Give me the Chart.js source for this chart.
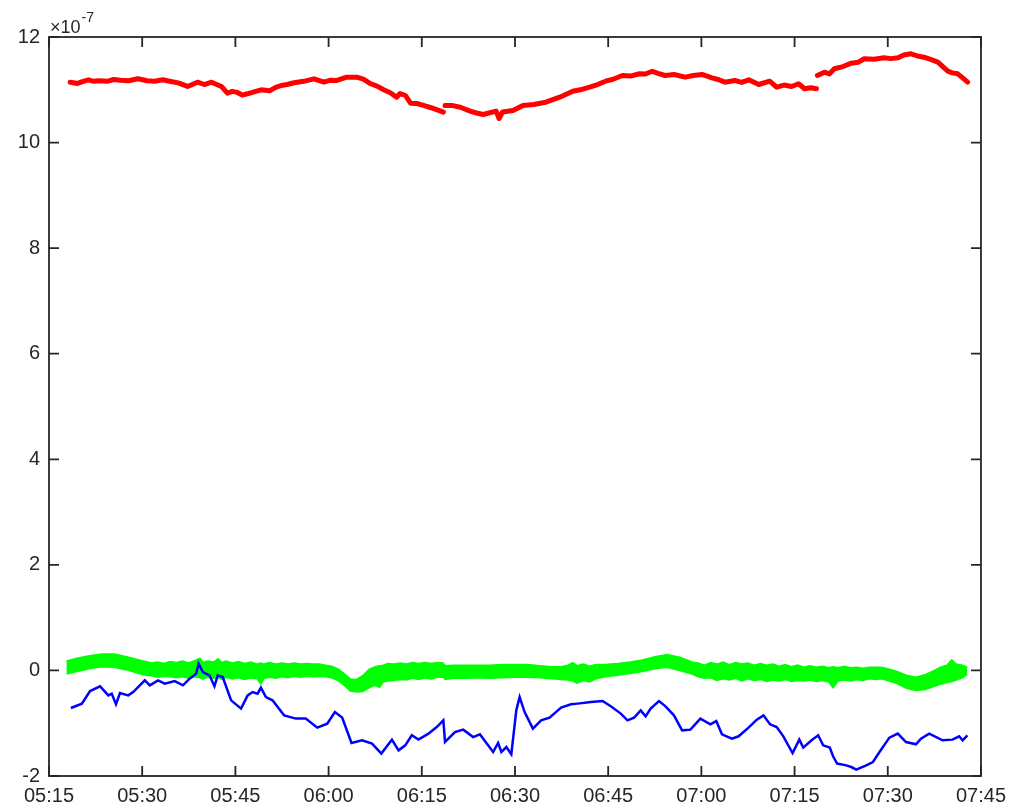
<!DOCTYPE html>
<html>
<head>
<meta charset="utf-8">
<script src="https://cdn.jsdelivr.net/npm/chart.js@4.4.1/dist/chart.umd.min.js"></script>
<style>
  html, body { margin: 0; padding: 0; background: #ffffff; }
  #wrap { width: 1014px; height: 806px; position: relative; }
</style>
</head>
<body>
<div id="wrap"><canvas id="c" width="1014" height="806"></canvas></div>
<script>
// Time axis: minutes after 05:15, ticks every 15 minutes
const tickMinutes = [0, 15, 30, 45, 60, 75, 90, 105, 120, 135, 150];
const tickLabels = ['05:15', '05:30', '05:45', '06:00', '06:15', '06:30',
                    '06:45', '07:00', '07:15', '07:30', '07:45'];
const yTicks = [-2, 0, 2, 4, 6, 8, 10, 12];
const EXPONENT = -7; // values below are in units of 10^-7

// Red trace (three segments separated by null gaps)
const redMinutes = [3.41, 4.6, 5.5, 6.34, 7.2, 8.0, 9.5, 10.4, 11.5, 12.8, 14.3, 15.8, 17.02, 18.3, 19.42, 20.8, 22.31, 23.91, 25.0,
  26.15, 27.75, 28.71, 29.5, 30.3, 31.1, 31.92, 33.0, 34.16, 35.5, 36.4, 37.36, 38.3, 39.44, 41.0, 42.65, 44.25, 45.2, 46.33, 47.93, 49.53,
  50.6, 51.78, 52.8, 53.86, 55.0, 55.94, 56.5, 57.38, 58.18, 59.2, 60.27, 61.5, 62.5, 63.47,
  63.6,
  63.74, 65.0, 66.19, 67.8, 68.8, 69.88, 70.8, 71.96, 72.44, 73.0, 74.68, 76.28, 78.0, 79.96, 82.21, 84.29, 85.5, 87.01, 88.3, 89.57,
  90.8, 92.29, 93.6, 95.02, 96.0, 97.1, 98.0, 99.18, 100.6, 102.38, 103.7, 105.11, 106.71, 107.8, 108.79, 110.39, 111.5, 112.63,
  114.23, 115.99, 117.11, 118.3, 119.52, 120.64, 121.6, 122.6, 123.52,
  123.6,
  123.68, 124.8, 125.6, 126.4, 127.8, 129.12, 130.2, 131.21, 132.8, 134.41, 135.5, 136.65, 137.6, 138.73, 139.8, 140.81, 142.0,
  143.06, 144.66, 145.4, 146.26, 147.1, 147.86];
const redValues = [11.144, 11.12, 11.16, 11.189, 11.16, 11.17, 11.163, 11.195, 11.18, 11.17, 11.208, 11.17, 11.163, 11.19, 11.163, 11.13, 11.063, 11.144, 11.10,
  11.144, 11.063, 10.936, 10.97, 10.95, 10.90, 10.924, 10.96, 11.0, 10.98, 11.04, 11.081, 11.10, 11.133, 11.16, 11.208, 11.144, 11.18, 11.176, 11.239, 11.239,
  11.20, 11.114, 11.07, 11.0, 10.94, 10.86, 10.93, 10.892, 10.746, 10.74, 10.703, 10.66, 10.62, 10.576,
  null,
  10.703, 10.70, 10.67, 10.595, 10.56, 10.532, 10.56, 10.597, 10.456, 10.58, 10.608, 10.703, 10.72, 10.765, 10.86, 10.973, 11.00, 11.049, 11.10, 11.163,
  11.20, 11.271, 11.26, 11.303, 11.30, 11.352, 11.31, 11.271, 11.29, 11.239, 11.27, 11.29, 11.227, 11.19, 11.144, 11.176, 11.14, 11.189,
  11.1, 11.163, 11.049, 11.09, 11.063, 11.114, 11.019, 11.04, 11.019,
  null,
  11.271, 11.333, 11.30, 11.398, 11.44, 11.504, 11.52, 11.587, 11.58, 11.606, 11.59, 11.606, 11.66, 11.682, 11.64, 11.617, 11.57,
  11.523, 11.352, 11.32, 11.303, 11.22, 11.144];

// Blue trace
const blueMinutes = [3.52, 5.29, 6.61, 8.22, 9.55, 10.09, 10.78, 11.42, 12.75, 13.55, 15.42, 16.23, 17.55, 18.63, 20.23,
  21.56, 22.63, 23.7, 24.07, 24.76, 25.83, 26.63, 27.16, 27.96, 29.31, 30.91, 31.97, 32.77, 33.57, 34.11, 34.91, 35.97,
  37.84, 39.72, 41.32, 43.18, 44.78, 46.01, 47.18, 48.69, 50.38, 51.99, 53.49, 55.19, 56.26, 57.34, 58.39, 59.47, 61.07,
  62.4, 63.47, 63.74, 65.34, 66.67, 68.27, 69.35, 70.4, 71.48, 72.28, 72.81, 73.61, 74.41, 75.21, 75.75, 76.55, 77.88,
  79.21, 80.56, 82.42, 84.02, 85.09, 87.22, 89.1, 90.42, 92.03, 93.1, 94.17, 95.23, 96.03, 96.83, 98.17, 99.23, 100.58,
  101.9, 103.23, 104.84, 106.44, 107.4, 108.31, 109.91, 110.99, 112.59, 113.92, 114.99, 116.05, 117.12, 118.19, 119.68,
  120.76, 121.4, 122.73, 123.8, 124.6, 125.66, 126.2, 126.84, 128.33, 129.13, 129.93, 131.53, 132.61, 133.67, 135.26,
  136.61, 137.94, 139.54, 140.34, 141.67, 143.82, 145.42, 146.49, 147.04, 147.82];
const blueValues = [-0.712, -0.629, -0.39, -0.301, -0.472, -0.44, -0.642, -0.428, -0.472, -0.409, -0.188, -0.282, -0.188, -0.25, -0.201,
  -0.282, -0.156, -0.061, 0.128, -0.031, -0.093, -0.301, -0.093, -0.125, -0.567, -0.724, -0.472, -0.409, -0.44, -0.326, -0.504, -0.567,
  -0.851, -0.913, -0.913, -1.084, -1.008, -0.788, -0.894, -1.375, -1.324, -1.387, -1.576, -1.311, -1.514, -1.419, -1.229, -1.311, -1.197,
  -1.072, -0.945, -1.356, -1.167, -1.122, -1.262, -1.211, -1.375, -1.546, -1.375, -1.546, -1.451, -1.589, -0.756, -0.504, -0.788, -1.103,
  -0.945, -0.894, -0.705, -0.642, -0.629, -0.599, -0.58, -0.68, -0.818, -0.945, -0.894, -0.756, -0.87, -0.724, -0.58, -0.68, -0.851,
  -1.135, -1.122, -0.913, -1.021, -0.959, -1.211, -1.292, -1.248, -1.084, -0.932, -0.851, -1.021, -1.072, -1.248, -1.565,
  -1.311, -1.462, -1.324, -1.229, -1.419, -1.462, -1.627, -1.765, -1.798, -1.83, -1.879, -1.798, -1.735, -1.546, -1.273,
  -1.197, -1.356, -1.4, -1.292, -1.197, -1.324, -1.311, -1.248, -1.324, -1.229];

// Green trace: upper and lower edges of its noisy band
const greenMinutes = [
  2.8, 4.5, 6.5, 8.5, 10.5, 12.5, 14.5,
  15.5, 16.5, 17.5, 18.5, 19.5, 20.5, 21.5, 22.5, 23.5, 24.3, 24.8, 25.5, 26.5, 27.2, 27.8, 28.5, 29.5,
  30.5, 31.5, 32.5, 33.5, 34.1, 34.6, 35.5, 36.5, 37.5, 38.5, 39.5, 40.5, 41.5, 42.5, 43.5, 44.5,
  45.5, 46.5, 47.5, 48.5, 49.5, 50.5, 51.5,
  52.5, 53.2, 53.8, 54.5, 55.5, 56.5, 57.5, 58.5, 59.5, 60.5, 61.5, 62.5, 63.4,
  63.8, 65, 67, 69, 71, 73, 75, 77, 79, 81, 82.5,
  83.5, 84.3, 85, 86, 87, 88, 89.5, 91.5, 93.5, 95.5, 97.5, 99.5, 101.5, 103.5,
  104.5, 105.5, 106.5, 107.5, 108.5, 109.5, 110.5, 111.5, 112.5, 113.5, 114.5,
  115.5, 116.5, 117.5, 118.5, 119.5, 120.5, 121.5, 122.5, 123.5, 124.5, 125.5,
  126.2, 127, 128, 129, 130, 131, 132, 133, 134, 135,
  136.5, 138, 139.5, 141, 142.5,
  143.5, 144.5, 145.3, 146, 147, 147.8];
const greenUpper = [
  0.18, 0.23, 0.28, 0.31, 0.31, 0.26, 0.20,
  0.17, 0.14, 0.16, 0.13, 0.17, 0.15, 0.18, 0.14, 0.19, 0.23, 0.15, 0.18, 0.16, 0.22, 0.15, 0.18, 0.14,
  0.17, 0.13, 0.16, 0.12, 0.14, 0.12, 0.15, 0.12, 0.14, 0.12, 0.14, 0.12, 0.13, 0.12, 0.12, 0.10,
  0.08, 0.03, -0.06, -0.16, -0.17, -0.10, 0.02,
  0.07, 0.09, 0.10, 0.13, 0.12, 0.14, 0.12, 0.15, 0.13, 0.15, 0.13, 0.15, 0.14,
  0.09, 0.10, 0.10, 0.10, 0.10, 0.11, 0.11, 0.11, 0.09, 0.07, 0.07,
  0.10, 0.15, 0.09, 0.12, 0.08, 0.11, 0.11, 0.13, 0.16, 0.20, 0.26, 0.30, 0.25, 0.16,
  0.14, 0.10, 0.15, 0.12, 0.16, 0.11, 0.15, 0.12, 0.14, 0.10, 0.13,
  0.10, 0.12, 0.08, 0.11, 0.07, 0.10, 0.06, 0.09, 0.06, 0.08, 0.05,
  0.07, 0.05, 0.08, 0.05, 0.06, 0.04, 0.06, 0.06, 0.06, 0.03,
  -0.02, -0.09, -0.13, -0.08, 0.00,
  0.06, 0.10, 0.20, 0.12, 0.10, 0.06];
const greenLower = [
  -0.07, -0.02, 0.03, 0.07, 0.06, 0.01, -0.06,
  -0.09, -0.10, -0.13, -0.11, -0.12, -0.14, -0.12, -0.15, -0.12, -0.14, -0.16, -0.13, -0.15, -0.14, -0.17, -0.13, -0.16,
  -0.14, -0.17, -0.14, -0.16, -0.26, -0.15, -0.13, -0.15, -0.12, -0.14, -0.11, -0.13, -0.11, -0.12, -0.11, -0.12,
  -0.14, -0.19, -0.28, -0.39, -0.41, -0.40, -0.33,
  -0.28, -0.32, -0.22, -0.20, -0.19, -0.17, -0.18, -0.15, -0.17, -0.14, -0.16, -0.13, -0.13,
  -0.17, -0.15, -0.15, -0.14, -0.15, -0.14, -0.13, -0.13, -0.14, -0.16, -0.17,
  -0.18, -0.20, -0.24, -0.19, -0.22, -0.16, -0.12, -0.09, -0.06, -0.02, 0.03, 0.06, 0.00, -0.07,
  -0.12, -0.15, -0.14, -0.19, -0.16, -0.18, -0.15, -0.20, -0.16, -0.19, -0.17,
  -0.21, -0.18, -0.20, -0.17, -0.21, -0.19, -0.20, -0.18, -0.21, -0.19, -0.22,
  -0.33, -0.20, -0.18, -0.20, -0.17, -0.19, -0.16, -0.17, -0.16, -0.19,
  -0.25, -0.34, -0.38, -0.36, -0.30,
  -0.26, -0.23, -0.21, -0.18, -0.14, -0.07];

const pts = (xs, ys) => xs.map((x, i) => ({ x: x, y: ys[i] }));

const AXIS_COLOR = '#262626';
const FONT = '"Liberation Sans", Helvetica, Arial, sans-serif';

// Full box with inward tick marks on all four sides, plus the exponent label
const boxPlugin = {
  id: 'box',
  afterDatasetsDraw(chart) {
    const { ctx, chartArea: a, scales } = chart;
    const len = 10;
    ctx.save();
    ctx.strokeStyle = AXIS_COLOR;
    ctx.lineWidth = 1.8;
    ctx.beginPath();
    scales.x.ticks.forEach(t => {
      const px = scales.x.getPixelForValue(t.value);
      ctx.moveTo(px, a.bottom); ctx.lineTo(px, a.bottom - len);
      ctx.moveTo(px, a.top); ctx.lineTo(px, a.top + len);
    });
    scales.y.ticks.forEach(t => {
      const py = scales.y.getPixelForValue(t.value);
      ctx.moveTo(a.left, py); ctx.lineTo(a.left + len, py);
      ctx.moveTo(a.right, py); ctx.lineTo(a.right - len, py);
    });
    ctx.stroke();
    ctx.strokeRect(a.left, a.top, a.right - a.left, a.bottom - a.top);

    // ×10^-7 multiplier above the y axis
    ctx.fillStyle = AXIS_COLOR;
    ctx.textBaseline = 'alphabetic';
    ctx.textAlign = 'left';
    ctx.font = '18px ' + FONT;
    const base = a.top - 4;
    const x0 = a.left + 1;
    ctx.fillText('\u00d710', x0, base);
    const w = ctx.measureText('\u00d710').width;
    ctx.font = '14px ' + FONT;
    ctx.fillText(String(EXPONENT), x0 + w + 1, base - 11);
    ctx.restore();
  }
};

new Chart(document.getElementById('c'), {
  type: 'line',
  data: {
    datasets: [
      {
        data: pts(blueMinutes, blueValues),
        borderColor: '#0000ff', borderWidth: 2.5, pointRadius: 0,
        tension: 0, spanGaps: false, order: 0
      },
      {
        data: pts(redMinutes, redValues),
        borderColor: '#ff0000', borderWidth: 5, pointRadius: 0,
        tension: 0, spanGaps: false, order: 1, borderJoinStyle: 'round', borderCapStyle: 'round'
      },
      {
        data: pts(greenMinutes, greenUpper),
        borderColor: '#00ff00', borderWidth: 1.5, pointRadius: 0,
        tension: 0, fill: false, order: 2
      },
      {
        data: pts(greenMinutes, greenLower),
        borderColor: '#00ff00', borderWidth: 1.5, pointRadius: 0,
        backgroundColor: '#00ff00', tension: 0, fill: '-1', order: 3
      }
    ]
  },
  options: {
    responsive: false,
    animation: false,
    devicePixelRatio: 1,
    layout: { padding: { left: 0, right: 29, top: 37, bottom: 0 } },
    plugins: { legend: { display: false }, tooltip: { enabled: false } },
    scales: {
      x: {
        type: 'linear', min: 0, max: 150,
        grid: { display: false, drawTicks: false },
        border: { display: false },
        afterBuildTicks(scale) { scale.ticks = tickMinutes.map(v => ({ value: v })); },
        afterFit(scale) { scale.height = 30; },
        ticks: {
          color: AXIS_COLOR, padding: 8, maxRotation: 0, autoSkip: false,
          font: { family: FONT, size: 20 },
          callback: (v, i) => tickLabels[i]
        }
      },
      y: {
        type: 'linear', min: -2, max: 12,
        grid: { display: false, drawTicks: false },
        border: { display: false },
        afterBuildTicks(scale) { scale.ticks = yTicks.map(v => ({ value: v })); },
        afterFit(scale) { scale.width = 49; },
        ticks: {
          color: AXIS_COLOR, padding: 9,
          font: { family: FONT, size: 20 },
          callback: v => String(v)
        }
      }
    }
  },
  plugins: [boxPlugin]
});
</script>
</body>
</html>
